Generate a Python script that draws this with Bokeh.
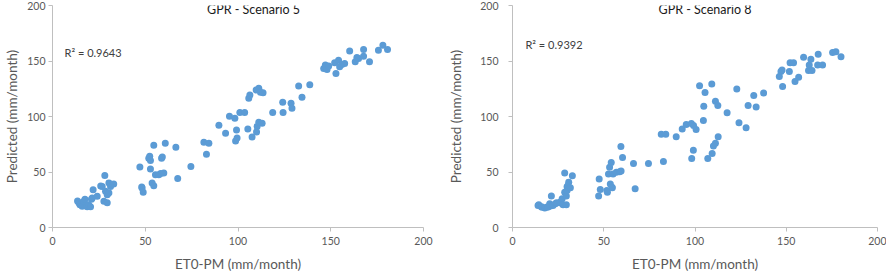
from bokeh.plotting import figure
from bokeh.layouts import row
from bokeh.models import Label, Range1d, FixedTicker
from bokeh.embed import file_html
from bokeh.resources import INLINE

# ---------------- data ----------------
x_ticks = [0, 50, 100, 150, 200]
y_ticks = [0, 50, 100, 150, 200]

titles = ["GPR - Scenario 5", "GPR - Scenario 8"]
r2_texts = ["R\u00b2 = 0.9643", "R\u00b2 = 0.9392"]
x_label = "ET0-PM (mm/month)"
y_label = "Predicted (mm/month)"

# Scenario 5: observed ET0-PM vs predicted
obs5 = [13.5, 14.2, 14.8, 15.5, 16.0, 16.9, 17.5, 18.7, 19.5, 20.5,
        21.0, 21.4, 21.9, 24.1, 26.0, 26.8, 27.7, 28.2, 28.6, 29.5,
        29.5, 30.4, 30.4, 31.3, 33.0,
        47.1, 48.1, 48.3, 48.9, 51.9, 52.4, 52.8, 52.8, 53.7, 54.6,
        54.6, 55.5, 57.3, 58.3, 58.8, 59.2, 60.0, 60.8, 66.5, 67.5,
        74.6, 81.6, 83.0, 84.3, 89.7, 93.3, 95.4, 98.3, 98.7, 99.2,
        99.5,
        101.0, 103.6, 105.3, 105.8, 106.4, 107.6, 110.0, 110.3, 109.8, 111.2,
        112.1, 113.5, 111.2, 113.0, 118.7, 124.1, 124.3, 128.6, 129.1, 132.7,
        134.5, 138.7, 146.2, 147.1, 148.0, 148.9, 152.1, 152.8, 154.2, 154.8,
        156.0, 157.5, 160.2, 163.2, 164.1, 165.0, 167.7, 167.7, 170.9, 175.7,
        178.1, 180.6]
pred5 = [23.9, 22.2, 20.5, 21.5, 19.1, 23.6, 25.4, 18.6, 20.5, 18.6,
         25.4, 26.6, 34.1, 28.1, 37.3, 37.0, 23.6, 46.9, 32.6, 29.6,
         22.2, 40.1, 31.0, 37.0, 39.2,
         54.4, 36.4, 35.6, 31.7, 62.5, 64.2, 60.4, 52.6, 40.1, 74.2,
         37.7, 47.5, 47.5, 48.7, 62.5, 63.5, 49.0, 76.0, 72.4, 44.2,
         55.0, 76.9, 66.1, 76.0, 92.2, 84.9, 100.3, 98.5, 78.0, 87.8,
         80.6,
         103.6, 103.6, 88.7, 116.4, 119.4, 81.5, 86.0, 91.0, 123.9, 125.4,
         121.8, 121.5, 94.9, 94.0, 103.6, 112.8, 103.6, 111.9, 107.5, 127.5,
         117.3, 128.7, 143.3, 146.3, 142.4, 145.4, 148.4, 138.8, 150.7, 144.8,
         146.9, 147.8, 159.1, 149.3, 153.1, 152.2, 160.3, 154.3, 149.3, 159.7,
         164.2, 160.3]

# Scenario 8
obs8 = [14.0, 14.4, 15.9, 16.2, 17.7, 19.0, 19.5, 20.4, 20.8, 21.3,
        22.2, 23.5, 24.1, 25.9, 26.2, 27.2, 27.7, 28.6, 28.6, 29.5,
        29.5, 29.9, 29.9, 30.4, 30.8, 31.7, 32.8,
        47.2, 47.5, 48.1, 51.7, 52.0, 52.6, 53.2, 53.6, 54.1, 54.5,
        54.7, 55.1, 56.9, 58.7, 59.4, 59.5, 60.3, 66.3, 67.2, 74.5,
        81.5, 82.7, 84.0, 89.7, 93.0, 95.2, 98.0, 99.2, 100.6, 98.2,
        99.1,
        102.5, 104.8, 105.5, 104.6, 107.0, 109.2, 109.4, 110.1, 111.2, 111.2,
        112.5, 112.7, 117.6, 122.9, 124.1, 128.0, 129.1, 132.2, 133.5, 137.6,
        146.2, 147.1, 147.7, 148.0, 151.7, 152.1, 154.0, 154.8, 156.8, 159.5,
        162.2, 162.6, 163.5, 164.1, 167.2, 167.5, 169.9, 175.4, 177.2, 180.0]
pred8 = [19.9, 20.5, 18.5, 18.5, 17.6, 18.5, 18.5, 21.4, 19.4, 28.3,
         19.9, 21.4, 22.3, 22.3, 22.9, 25.9, 20.5, 49.1, 31.8, 28.3,
         20.5, 36.6, 33.3, 37.8, 40.8, 35.7, 46.7,
         28.3, 43.8, 34.2, 33.3, 31.8, 48.2, 54.2, 39.3, 58.6, 36.3,
         35.7, 48.2, 49.7, 50.3, 72.9, 50.9, 63.1, 57.7, 34.8, 57.7,
         83.9, 59.5, 83.9, 81.8, 88.7, 92.9, 93.8, 92.0, 88.4, 62.2,
         69.6,
         127.7, 109.2, 121.7, 96.4, 62.2, 129.2, 66.7, 73.5, 75.9, 113.7,
         109.8, 81.8, 103.3, 124.7, 94.3, 89.9, 109.8, 119.0, 108.6, 121.1,
         136.0, 140.5, 142.0, 127.1, 140.5, 148.5, 148.5, 131.5, 135.4, 153.3,
         141.4, 146.4, 151.5, 141.4, 146.4, 156.0, 146.4, 157.7, 158.3, 153.9]

# ---------------- styling ----------------
FONT = "Lato"
DOT = "#5B9BD5"
AXIS = "#BFBFBF"
TXT = "#595959"


def make(xs, ys, title, r2, bl, br, lab_stand, axlab_stand, title_x, r2_x, r2_y):
    p = figure(width=443, height=274, x_range=Range1d(0, 200), y_range=Range1d(0, 200),
               output_backend="svg", toolbar_location=None,
               min_border_left=bl, min_border_right=br,
               min_border_top=5, min_border_bottom=46)
    p.title.visible = False
    p.outline_line_color = None
    p.grid.visible = False
    p.background_fill_color = "white"
    p.border_fill_color = "white"

    p.xaxis.ticker = FixedTicker(ticks=x_ticks)
    p.yaxis.ticker = FixedTicker(ticks=y_ticks)
    p.xaxis.axis_label = x_label
    p.yaxis.axis_label = y_label
    for ax in (p.xaxis, p.yaxis):
        ax.axis_line_color = AXIS
        ax.major_tick_line_color = AXIS
        ax.major_tick_out = 4
        ax.major_tick_in = 0
        ax.minor_tick_line_color = None
        ax.major_label_text_font = FONT
        ax.major_label_text_font_size = "10.5px"
        ax.major_label_text_color = TXT
        ax.axis_label_text_font = FONT
        ax.axis_label_text_font_size = "13.5px"
        ax.axis_label_text_font_style = "normal"
        ax.axis_label_text_color = TXT
    p.xaxis.major_label_standoff = 5
    p.xaxis.axis_label_standoff = 8
    p.yaxis.major_label_standoff = lab_stand
    p.yaxis.axis_label_standoff = axlab_stand

    p.scatter(xs, ys, size=7, fill_color=DOT, line_color=None)

    p.add_layout(Label(x=title_x, y=200, text=title, text_align="center",
                       text_baseline="top", y_offset=4,
                       text_font=FONT, text_font_size="12.5px", text_color="#1a1a1a"))
    p.add_layout(Label(x=r2_x, y=r2_y, text=r2, text_align="left",
                       text_baseline="middle",
                       text_font=FONT, text_font_size="11px", text_color="#404040"))
    return p


p1 = make(obs5, pred5, titles[0], r2_texts[0], 52, 20, 3, 4, 108.4, 6.5, 157.4)
p2 = make(obs8, pred8, titles[1], r2_texts[1], 69, 9, 10, 13, 105.5, 7.1, 165)

layout = row(p1, p2)
open("out.html", "w").write(file_html(layout, INLINE))
